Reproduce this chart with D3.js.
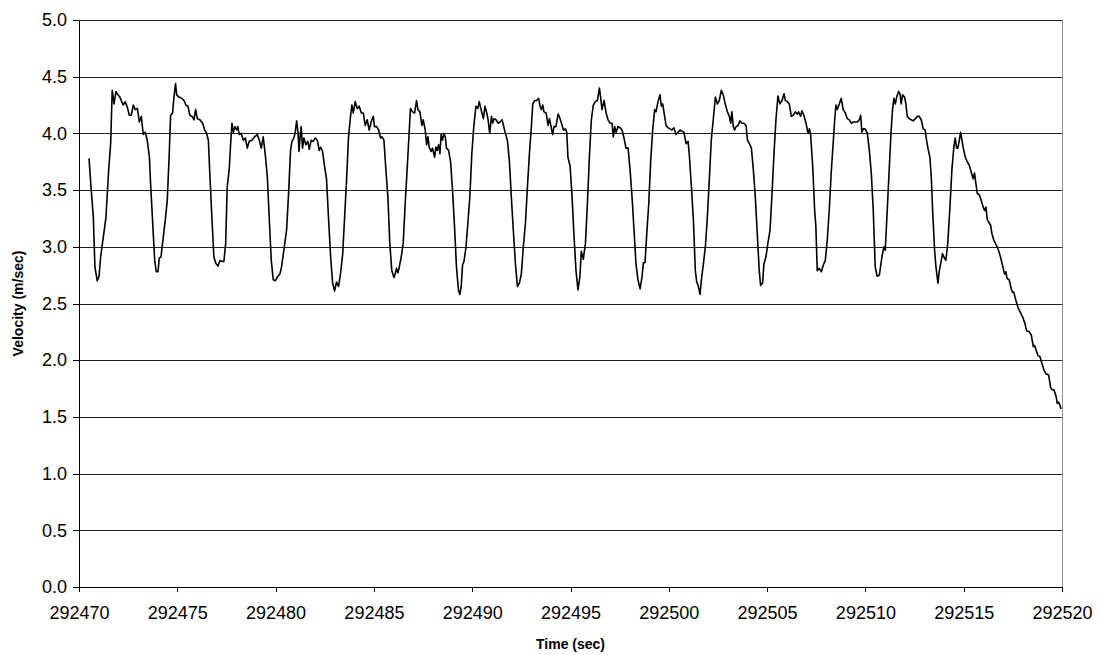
<!DOCTYPE html>
<html>
    <head>
        <style>
            body { margin: 0; background: #fff; }
            .line {
                fill: none;
                stroke: #000;
                stroke-width: 1.6px;
                stroke-linejoin: round;
            }
            .grid line { stroke: #222; shape-rendering: crispEdges; }
            .axis text { font-family: "Liberation Sans", Arial, sans-serif; font-size: 18px; fill: #000; }
            .axis path, .axis line { stroke: #000; shape-rendering: crispEdges; }
            .title { font-family: "Liberation Sans", Arial, sans-serif; font-size: 14px; font-weight: bold; fill: #000; }
        </style>
    </head>
<body>
<script src="https://d3js.org/d3.v7.min.js"></script>
<script>
    // time in seconds
    var timeSec = [
        292470.51, 292470.61, 292470.73, 292470.81, 292470.93, 292471.02, 292471.10, 292471.24, 292471.37, 292471.51,
        292471.61, 292471.69, 292471.78, 292471.88, 292471.98, 292472.08, 292472.15, 292472.25, 292472.35, 292472.46,
        292472.56, 292472.66, 292472.76, 292472.86, 292472.97, 292473.07, 292473.17, 292473.27, 292473.37, 292473.47,
        292473.58, 292473.64, 292473.74, 292473.85, 292473.93, 292474.02, 292474.08, 292474.17, 292474.25, 292474.39,
        292474.49, 292474.59, 292474.66, 292474.76, 292474.83, 292474.91, 292474.97, 292475.08, 292475.22, 292475.34,
        292475.44, 292475.54, 292475.64, 292475.75, 292475.85, 292475.93, 292476.02, 292476.15, 292476.29, 292476.39,
        292476.49, 292476.58, 292476.66, 292476.76, 292476.86, 292476.97, 292477.07, 292477.17, 292477.27, 292477.37,
        292477.46, 292477.54, 292477.64, 292477.71, 292477.78, 292477.85, 292477.93, 292478.02, 292478.08, 292478.15,
        292478.25, 292478.36, 292478.46, 292478.56, 292478.66, 292478.80, 292478.93, 292479.07, 292479.17, 292479.27,
        292479.37, 292479.47, 292479.58, 292479.68, 292479.78, 292479.88, 292479.98, 292480.12,
        292480.22, 292480.30, 292480.42, 292480.56, 292480.66, 292480.76, 292480.83, 292480.93, 292481.00, 292481.07,
        292481.14, 292481.19, 292481.24, 292481.30, 292481.37, 292481.44, 292481.54, 292481.64, 292481.71, 292481.81,
        292481.91, 292482.02, 292482.12, 292482.22, 292482.29, 292482.39, 292482.49, 292482.59, 292482.69, 292482.80,
        292482.90, 292483.00, 292483.10, 292483.20, 292483.30, 292483.41, 292483.51, 292483.61, 292483.71, 292483.81,
        292483.88, 292483.95, 292484.05, 292484.15, 292484.25, 292484.36, 292484.46, 292484.56, 292484.66, 292484.76,
        292484.86, 292484.97, 292485.03, 292485.14, 292485.24, 292485.34, 292485.41, 292485.51, 292485.61, 292485.71,
        292485.81, 292485.91, 292486.02, 292486.08, 292486.15, 292486.22, 292486.29, 292486.39, 292486.49, 292486.59,
        292486.69, 292486.80, 292486.86, 292486.97, 292487.07, 292487.17, 292487.24, 292487.34, 292487.44, 292487.51,
        292487.61, 292487.68, 292487.75, 292487.81, 292487.91, 292487.98, 292488.09, 292488.15, 292488.22, 292488.29,
        292488.36, 292488.42, 292488.49, 292488.56, 292488.63, 292488.69, 292488.80, 292488.90, 292489.00, 292489.10,
        292489.20, 292489.30, 292489.37, 292489.44, 292489.51, 292489.58, 292489.68, 292489.78, 292489.88, 292489.98,
        292490.08, 292490.19, 292490.29, 292490.36,
        292490.48, 292490.57, 292490.65, 292490.74, 292490.81, 292490.89, 292490.98, 292491.04, 292491.11, 292491.21,
        292491.32, 292491.42, 292491.52, 292491.59, 292491.69, 292491.79, 292491.89, 292491.99, 292492.09, 292492.20,
        292492.30, 292492.40, 292492.50, 292492.60, 292492.71, 292492.81, 292492.91, 292493.01, 292493.08, 292493.18,
        292493.28, 292493.38, 292493.45, 292493.52, 292493.59, 292493.65, 292493.76, 292493.86, 292493.93, 292494.00,
        292494.09, 292494.16, 292494.26, 292494.37, 292494.43, 292494.54, 292494.64, 292494.74, 292494.81, 292494.87,
        292494.98, 292495.08, 292495.18, 292495.28, 292495.38, 292495.48, 292495.55, 292495.65, 292495.76, 292495.86,
        292495.96, 292496.06, 292496.16, 292496.26, 292496.37, 292496.47, 292496.54, 292496.60, 292496.71, 292496.81,
        292496.91, 292497.01, 292497.11, 292497.18, 292497.25, 292497.32, 292497.42, 292497.52, 292497.62, 292497.72,
        292497.82, 292497.93, 292498.03, 292498.13, 292498.23, 292498.33, 292498.43, 292498.54, 292498.64, 292498.71,
        292498.79, 292498.87, 292498.98, 292499.08, 292499.18, 292499.28, 292499.35, 292499.45, 292499.55, 292499.62,
        292499.69, 292499.76, 292499.86, 292499.96, 292500.06, 292500.16, 292500.26, 292500.37, 292500.47, 292500.57,
        292500.67, 292500.77, 292500.88, 292500.98, 292501.04, 292501.15, 292501.25, 292501.35, 292501.42, 292501.49,
        292501.59, 292501.65, 292501.76, 292501.86, 292501.96, 292502.06, 292502.16, 292502.26, 292502.37, 292502.47,
        292502.57, 292502.67, 292502.77, 292502.87, 292502.98, 292503.08, 292503.15, 292503.21, 292503.28, 292503.35,
        292503.42, 292503.52, 292503.62, 292503.72, 292503.82, 292503.93, 292504.00, 292504.10, 292504.20, 292504.30,
        292504.40, 292504.50, 292504.60, 292504.67, 292504.77, 292504.84, 292504.94, 292505.04, 292505.15, 292505.25,
        292505.35, 292505.45, 292505.55, 292505.65, 292505.76, 292505.86, 292505.93, 292506.03, 292506.13, 292506.23,
        292506.33, 292506.43, 292506.54, 292506.60, 292506.71, 292506.77, 292506.87, 292506.98, 292507.08, 292507.15,
        292507.21, 292507.32, 292507.42, 292507.48, 292507.55, 292507.65, 292507.76, 292507.86, 292507.96, 292508.06,
        292508.16, 292508.27, 292508.37, 292508.44, 292508.50, 292508.57, 292508.67, 292508.77, 292508.87, 292508.98,
        292509.08, 292509.18, 292509.28, 292509.38, 292509.48, 292509.59, 292509.69, 292509.76, 292509.82, 292509.89,
        292509.99, 292510.10, 292510.20, 292510.30, 292510.40, 292510.50, 292510.60, 292510.71,
        292510.84, 292510.94, 292511.01, 292511.11, 292511.21, 292511.31, 292511.38, 292511.45, 292511.52, 292511.59,
        292511.69, 292511.76, 292511.82, 292511.89, 292511.99, 292512.06, 292512.13, 292512.23, 292512.33, 292512.43,
        292512.54, 292512.64, 292512.74, 292512.84, 292512.94, 292513.04, 292513.11, 292513.18, 292513.28, 292513.35,
        292513.42, 292513.52, 292513.59, 292513.69, 292513.76, 292513.86, 292513.92, 292513.99, 292514.09, 292514.19,
        292514.30, 292514.40, 292514.50, 292514.57, 292514.64, 292514.70, 292514.77, 292514.84, 292514.91, 292514.97,
        292515.08, 292515.18, 292515.28, 292515.38, 292515.48, 292515.55, 292515.62, 292515.69, 292515.79, 292515.89,
        292515.99, 292516.06, 292516.13, 292516.20, 292516.30, 292516.37, 292516.43, 292516.53, 292516.67, 292516.77,
        292516.87, 292516.97, 292517.08, 292517.14, 292517.21, 292517.31, 292517.42, 292517.48, 292517.55, 292517.65,
        292517.75,
        292517.83, 292518.00, 292518.12, 292518.20, 292518.34, 292518.44, 292518.54, 292518.61, 292518.68, 292518.78,
        292518.88, 292518.98, 292519.09, 292519.19, 292519.32, 292519.42, 292519.49, 292519.59, 292519.70, 292519.76,
        292519.83, 292519.90, 292519.95
    ];

    // velocity in m/sec, same order as timeSec
    var velocity = [
        3.78, 3.53, 3.26, 2.82, 2.70, 2.74, 2.91, 3.09, 3.26, 3.68,
        3.91, 4.38, 4.26, 4.37, 4.34, 4.32, 4.29, 4.25, 4.28, 4.23,
        4.16, 4.16, 4.25, 4.21, 4.22, 4.10, 4.15, 3.99, 4.01, 3.94,
        3.79, 3.56, 3.24, 2.88, 2.78, 2.78, 2.90, 2.91, 3.03, 3.24,
        3.41, 3.82, 4.16, 4.18, 4.32, 4.44, 4.34, 4.32, 4.31, 4.29,
        4.25, 4.24, 4.16, 4.15, 4.12, 4.21, 4.13, 4.12, 4.09, 4.03,
        4.00, 3.94, 3.62, 3.26, 2.91, 2.85, 2.83, 2.88, 2.87, 2.87,
        3.03, 3.53, 3.68, 3.90, 4.09, 4.01, 4.06, 4.03, 4.06, 3.99,
        4.00, 3.94, 3.96, 3.87, 3.93, 3.94, 3.97, 3.99, 3.94, 3.87,
        3.97, 3.82, 3.62, 3.24, 2.88, 2.71, 2.70, 2.74,
        2.76, 2.82, 2.97, 3.15, 3.47, 3.85, 3.93, 3.96, 4.01, 4.11,
        4.01, 3.84, 3.96, 4.06, 3.87, 3.96, 3.90, 3.93, 3.86, 3.94,
        3.93, 3.96, 3.94, 3.85, 3.88, 3.84, 3.71, 3.60, 3.26, 2.91,
        2.68, 2.61, 2.69, 2.65, 2.76, 2.93, 3.26, 3.59, 3.97, 4.15,
        4.25, 4.18, 4.28, 4.22, 4.24, 4.18, 4.18, 4.07, 4.12, 4.03,
        4.10, 4.15, 4.06, 4.06, 4.03, 3.96, 3.97, 3.94, 3.68, 3.44,
        3.03, 2.79, 2.73, 2.76, 2.81, 2.77, 2.82, 2.91, 3.03, 3.38,
        3.68, 4.03, 4.22, 4.19, 4.18, 4.29, 4.21, 4.19, 4.07, 4.12,
        4.03, 3.90, 3.97, 3.88, 3.84, 3.87, 3.79, 3.88, 3.85, 3.90,
        3.82, 3.99, 3.94, 4.00, 3.97, 3.87, 3.85, 3.75, 3.50, 3.18,
        2.82, 2.62, 2.58, 2.65, 2.84, 2.87, 2.99, 3.21, 3.44, 3.82,
        4.06, 4.24, 4.22, 4.28,
        4.19, 4.13, 4.24, 4.18, 4.12, 4.00, 4.15, 4.09, 4.13, 4.12,
        4.09, 4.10, 4.12, 4.07, 4.00, 3.94, 3.76, 3.44, 3.15, 2.85,
        2.65, 2.68, 2.76, 3.00, 3.21, 3.53, 3.82, 4.06, 4.26, 4.29,
        4.29, 4.31, 4.24, 4.21, 4.25, 4.19, 4.18, 4.07, 4.13, 4.07,
        3.99, 4.06, 4.06, 4.17, 4.15, 4.09, 4.03, 4.04, 4.01, 3.79,
        3.71, 3.44, 3.09, 2.79, 2.62, 2.74, 2.96, 2.89, 3.03, 3.38,
        3.79, 4.12, 4.25, 4.28, 4.29, 4.40, 4.31, 4.21, 4.29, 4.18,
        4.12, 4.09, 4.09, 3.97, 4.06, 4.01, 4.06, 4.05, 4.03, 3.96,
        3.87, 3.87, 3.68, 3.44, 3.15, 2.85, 2.71, 2.63, 2.74, 2.86,
        2.86, 3.09, 3.38, 3.76, 4.03, 4.21, 4.19, 4.28, 4.34, 4.24,
        4.26, 4.18, 4.07, 4.05, 4.04, 4.03, 4.05, 3.99, 4.01, 4.03,
        4.02, 4.01, 3.91, 3.93, 3.82, 3.53, 3.24, 2.79, 2.69, 2.66,
        2.58, 2.70, 2.85, 3.00, 3.26, 3.59, 3.94, 4.12, 4.32, 4.26,
        4.29, 4.38, 4.34, 4.26, 4.19, 4.15, 4.09, 4.19, 4.06, 4.03,
        4.06, 4.07, 4.11, 4.09, 4.09, 4.07, 3.94, 3.91, 3.87, 3.68,
        3.44, 3.12, 2.79, 2.66, 2.68, 2.85, 2.91, 3.03, 3.15, 3.47,
        3.82, 4.12, 4.33, 4.26, 4.29, 4.35, 4.29, 4.28, 4.26, 4.15,
        4.16, 4.19, 4.17, 4.19, 4.15, 4.20, 4.16, 4.09, 4.00, 4.04,
        4.00, 3.71, 3.32, 3.18, 2.79, 2.81, 2.78, 2.84, 2.88, 3.06,
        3.32, 3.68, 3.94, 4.12, 4.25, 4.21, 4.26, 4.31, 4.21, 4.18,
        4.13, 4.12, 4.09, 4.10, 4.10, 4.10, 4.12, 4.16, 4.01, 4.04,
        4.04, 4.00, 3.85, 3.65, 3.32, 2.82, 2.74, 2.75,
        2.91, 3.00, 2.97, 3.32, 3.68, 4.03, 4.21, 4.31, 4.26, 4.32,
        4.37, 4.35, 4.26, 4.34, 4.32, 4.26, 4.15, 4.13, 4.12, 4.11,
        4.13, 4.15, 4.15, 4.12, 4.04, 4.03, 3.94, 3.87, 3.79, 3.62,
        3.32, 2.97, 2.82, 2.68, 2.79, 2.88, 2.94, 2.91, 2.88, 3.03,
        3.35, 3.68, 3.88, 3.96, 3.87, 3.87, 3.93, 4.01, 3.94, 3.88,
        3.79, 3.75, 3.72, 3.66, 3.60, 3.65, 3.56, 3.47, 3.46, 3.41,
        3.35, 3.32, 3.35, 3.24, 3.21, 3.19, 3.12, 3.06, 3.01, 2.97,
        2.91, 2.84, 2.76, 2.78, 2.72, 2.71, 2.63, 2.60, 2.60, 2.53,
        2.47,
        2.44, 2.38, 2.32, 2.26, 2.25, 2.22, 2.12, 2.13, 2.09, 2.04,
        2.03, 1.97, 1.91, 1.88, 1.87, 1.76, 1.74, 1.74, 1.68, 1.62,
        1.63, 1.60, 1.57
    ];

    var xTicks = [292470, 292475, 292480, 292485, 292490, 292495, 292500, 292505, 292510, 292515, 292520];
    var yTicks = [0, 0.5, 1, 1.5, 2, 2.5, 3, 3.5, 4, 4.5, 5];

    if (timeSec.length !== velocity.length) console.error("length mismatch", timeSec.length, velocity.length);

    var margin = { top: 20, right: 41, bottom: 68, left: 79 },
        width = 1103 - margin.left - margin.right,
        height = 655 - margin.top - margin.bottom;

    var root = d3.select("body").append("svg")
        .attr("width", 1103)
        .attr("height", 655);

    var svg = root.append("g")
        .attr("transform", "translate(" + margin.left + "," + margin.top + ")");

    var x = d3.scaleLinear().domain([292470, 292520]).range([0, width]);
    var y = d3.scaleLinear().domain([0, 5]).range([height, 0]);

    // horizontal gridlines
    svg.append("g")
        .attr("class", "grid")
        .selectAll("line")
        .data(yTicks.slice(1))
        .enter().append("line")
        .attr("x1", 0)
        .attr("x2", width)
        .attr("y1", function(d) { return Math.round(y(d)) + 0.5; })
        .attr("y2", function(d) { return Math.round(y(d)) + 0.5; });

    // right border of the plot area
    svg.append("line")
        .attr("x1", width + 0.5).attr("x2", width + 0.5)
        .attr("y1", 0).attr("y2", height)
        .attr("stroke", "#8c8c8c")
        .attr("shape-rendering", "crispEdges");

    var xAxis = d3.axisBottom(x)
        .tickValues(xTicks)
        .tickFormat(d3.format("d"))
        .tickSize(5)
        .tickSizeOuter(0)
        .tickPadding(14);

    var yAxis = d3.axisLeft(y)
        .tickValues(yTicks)
        .tickFormat(d3.format(".1f"))
        .tickSize(6)
        .tickSizeOuter(0)
        .tickPadding(6);

    svg.append("g")
        .attr("class", "x axis")
        .attr("transform", "translate(0," + height + ")")
        .call(xAxis);

    svg.append("g")
        .attr("class", "y axis")
        .call(yAxis);

    var data = timeSec.map(function(t, i) { return { time: t, v: velocity[i] }; });

    var line = d3.line()
        .x(function(d) { return x(d.time); })
        .y(function(d) { return y(d.v); });

    svg.append("path")
        .datum(data)
        .attr("class", "line")
        .attr("d", line);

    // axis titles
    root.append("text")
        .attr("class", "title")
        .attr("x", margin.left + width / 2)
        .attr("y", 649)
        .attr("text-anchor", "middle")
        .text("Time (sec)");

    root.append("text")
        .attr("class", "title")
        .attr("transform", "translate(23," + (margin.top + height / 2) + ") rotate(-90)")
        .attr("text-anchor", "middle")
        .text("Velocity (m/sec)");
</script>
</body>
</html>
